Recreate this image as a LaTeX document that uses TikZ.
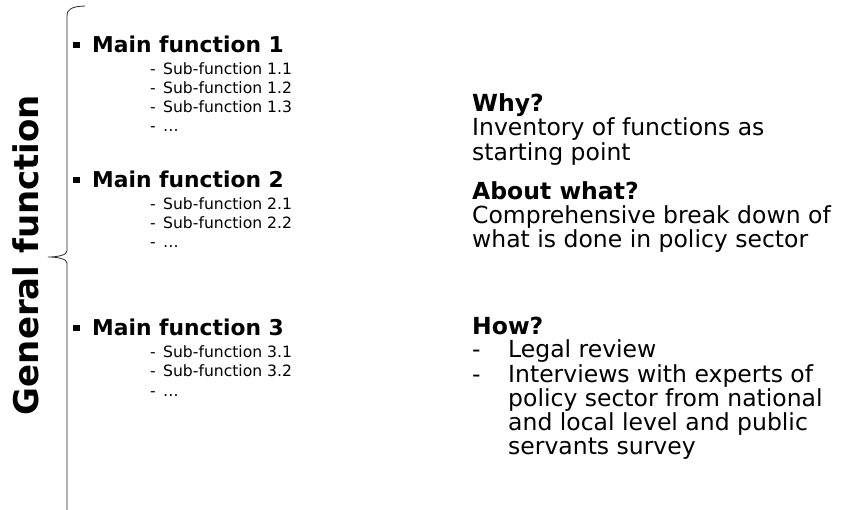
\documentclass[tikz,border=0pt]{standalone}
\usepackage{fontspec}
\setmainfont{DejaVu Sans}
\usetikzlibrary{positioning}

\begin{document}
\begin{tikzpicture}[x=1pt, y=-1pt,
  every node/.style={anchor=base west, inner sep=0pt},
  mainfn/.style={font=\fontsize{21.8}{26}\selectfont\bfseries},
  subfn/.style={font=\fontsize{15.6}{19}\selectfont},
  qhead/.style={font=\fontsize{23.5}{24}\selectfont\bfseries},
  qtext/.style={font=\fontsize{23.5}{24}\selectfont}]
\useasboundingbox (0,0) rectangle (843,510);
% brace
\draw[black!85, line width=0.8pt] (85,6) .. controls (72,6.5) and (67,9) .. (67,16) -- (67,251)
  .. controls (67,255) and (58,257) .. (48,257) .. controls (58,257) and (67,259) .. (67,263) -- (67,510);
\node[font=\fontsize{34}{34}\selectfont\bfseries, rotate=90, anchor=base] (gen) at (38,255) {General function};
% main functions
\foreach \i/\y in {1/53, 2/188, 3/336}
  \node[mainfn] (main\i) at (73,\y) {\raisebox{4.5pt}{\rule{6.5pt}{6.5pt}}\hspace{12.5pt}Main function \i};
% sub-functions
\node[subfn] (s11) at (150,75) {\makebox[13pt][l]{-}Sub-function 1.1};
\node[subfn] (s12) at (150,94) {\makebox[13pt][l]{-}Sub-function 1.2};
\node[subfn] (s13) at (150,113) {\makebox[13pt][l]{-}Sub-function 1.3};
\node[subfn] (s14) at (150,132) {\makebox[13pt][l]{-}…};
\node[subfn] (s21) at (150,210) {\makebox[13pt][l]{-}Sub-function 2.1};
\node[subfn] (s22) at (150,229) {\makebox[13pt][l]{-}Sub-function 2.2};
\node[subfn] (s23) at (150,248) {\makebox[13pt][l]{-}…};
\node[subfn] (s31) at (150,358) {\makebox[13pt][l]{-}Sub-function 3.1};
\node[subfn] (s32) at (150,377) {\makebox[13pt][l]{-}Sub-function 3.2};
\node[subfn] (s33) at (150,396) {\makebox[13pt][l]{-}…};
% questions
\node[qhead] (why) at (472,112) {Why?};
\node[qtext] (why1) at (472,136) {Inventory of functions as};
\node[qtext] (why2) at (472,161) {starting point};
\node[qhead] (what) at (472,200) {About what?};
\node[qtext] (what1) at (472,224) {Comprehensive break down of};
\node[qtext] (what2) at (472,248) {what is done in policy sector};
\node[qhead] (how) at (472,335) {How?};
\node[qtext] (how1) at (472,358) {\makebox[36pt][l]{-}Legal review};
\node[qtext] (how2) at (472,382) {\makebox[36pt][l]{-}Interviews with experts of};
\node[qtext] (how3) at (508,406) {policy sector from national};
\node[qtext] (how4) at (508,430) {and local level and public};
\node[qtext] (how5) at (508,454) {servants survey};
\end{tikzpicture}
\end{document}
